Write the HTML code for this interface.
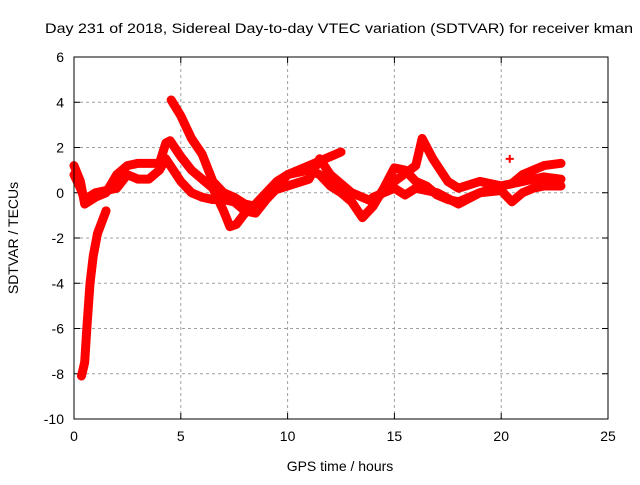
<!DOCTYPE html>
<html><head><meta charset="utf-8"><style>
body{margin:0;background:#fff}
svg text{font-family:"Liberation Sans",sans-serif;font-size:14px;fill:#000}
</style></head><body>
<svg id="chart" width="640" height="480" xmlns="http://www.w3.org/2000/svg">
<text x="45" y="33" textLength="588" lengthAdjust="spacingAndGlyphs">Day 231 of 2018, Sidereal Day-to-day VTEC variation (SDTVAR) for receiver kman</text>
<g id="grid"></g>
<g id="ticks"></g>
<g id="series"></g>
<rect x="74" y="57" width="534" height="362" fill="none" stroke="#000" stroke-width="1"/>
<text x="340" y="471" text-anchor="middle">GPS time / hours</text>
<text transform="translate(18,238) rotate(-90)" text-anchor="middle">SDTVAR / TECUs</text>
</svg>
<script>
const xTicks=[0,5,10,15,20,25];
const yTicks=[6,4,2,0,-2,-4,-6,-8,-10];
const trackA=[[0.35,-8.1],[0.5,-7.5],[0.6,-6],[0.75,-4],[0.9,-2.8],[1.1,-1.8],[1.5,-0.8]];
const trackB=[[4.55,4.1],[5,3.4],[5.5,2.4],[6,1.7],[6.5,0.5],[7,0],[7.5,-0.2],[8,-0.5],[8.5,-0.6]];
const trackC=[[0,1.2],[0.3,0.5],[0.5,-0.5],[1,-0.2],[1.5,0],[2,0.8],[2.5,1.2],[3,1.3],[3.5,1.3],[4,1.3],[4.3,2.2],[4.5,2.3],[5,1.6],[5.5,1],[6,0.6],[6.5,0.2],[7,-0.8],[7.3,-1.5],[7.6,-1.4],[8,-0.9],[8.5,-0.5],[9,0],[9.5,0.5],[10,0.8],[11,1.2],[12,1.6],[12.5,1.8]];
const trackD=[[0,0.8],[0.3,0.2],[0.5,-0.3],[1,0],[2,0.2],[2.5,0.8],[3,0.6],[3.5,0.6],[4,1],[4.3,1.5],[5,0.5],[5.5,0],[6,-0.2],[6.5,-0.3],[7,-0.3],[7.5,-0.4],[8,-0.8],[8.5,-0.9],[9,-0.3],[9.5,0.2],[10,0.8],[11,1.0],[11.5,0.8],[12,0.3],[12.5,0],[13,-0.4],[13.5,-1.1],[14,-0.6],[14.5,0.2],[15,1.1],[15.5,1],[16,0.5],[16.5,0.3],[17,-0.1],[17.5,-0.3],[18,-0.4],[19,0],[20,0.3],[21,0.5],[22,0.7],[22.8,0.6]];
const trackE=[[9,0],[10,0.3],[11,0.6],[11.5,1.5],[12,0.8],[13,0],[14,-0.4],[15,0.5],[16,1.2],[16.3,2.4],[16.8,1.5],[17.5,0.5],[18,0.2],[19,0.5],[20,0.3],[20.5,0.4],[21,0.8],[21.5,1],[22,1.2],[22.8,1.3]];
const trackF=[[14,-0.2],[15,0.2],[15.5,-0.1],[16,0.2],[17,0],[18,-0.5],[19,0],[20,0.1],[20.5,-0.4],[21,0],[21.5,0.2],[22,0.3],[22.8,0.3]];
const isolated=[[20.4,1.5]];
const tracks=[trackA,trackB,trackC,trackD,trackE,trackF];

const X0=74,X1=608,Y0=419,Y1=57;
function sx(h){return X0+(h-0)/(25-0)*(X1-X0);}
function sy(v){return Y0-(v+10)/16*(Y0-Y1);}
const NS="http://www.w3.org/2000/svg";
function mk(tag,attrs,parent){const e=document.createElementNS(NS,tag);for(const k in attrs)e.setAttribute(k,attrs[k]);parent.appendChild(e);return e;}
const grid=document.getElementById('grid'),ticks=document.getElementById('ticks'),ser=document.getElementById('series');
xTicks.forEach(t=>{
  const x=sx(t);
  if(t>0&&t<25){const g=mk('line',{x1:x,x2:x,y1:Y1,y2:Y0,stroke:'#a0a0a0','stroke-dasharray':'3,3'},grid);
  
  }
  mk('line',{x1:x,x2:x,y1:Y0,y2:Y0-6,stroke:'#000'},ticks);
  mk('line',{x1:x,x2:x,y1:Y1,y2:Y1+6,stroke:'#000'},ticks);
  const tx=mk('text',{x:x,y:Y0+22,'text-anchor':'middle'},ticks);tx.textContent=t;
  
  
});
yTicks.forEach(t=>{
  const y=sy(t);
  if(t>-10&&t<6){const g=mk('line',{x1:X0,x2:X1,y1:y,y2:y,stroke:'#a0a0a0','stroke-dasharray':'3,3'},grid);
  
  }
  mk('line',{x1:X0,x2:X0+6,y1:y,y2:y,stroke:'#000'},ticks);
  mk('line',{x1:X1,x2:X1-6,y1:y,y2:y,stroke:'#000'},ticks);
  const tx=mk('text',{x:X0-10,y:y+5,'text-anchor':'end'},ticks);tx.textContent=t;
  
  
});
tracks.forEach((tr,i)=>{
  const pl=mk('polyline',{points:tr.map(p=>sx(p[0])+','+sy(p[1])).join(' '),fill:'none',stroke:'#ff0000','stroke-width':9,'stroke-linejoin':'round','stroke-linecap':'round'},ser);
  
  
});
tracks.concat([isolated]).forEach(tr=>tr.forEach(p=>{
  const x=sx(p[0]),y=sy(p[1]);
  const m=mk('path',{d:`M${x-4},${y}h8M${x},${y-4}v8`,stroke:'#ff0000','stroke-width':2},ser);
  
  
}));
</script>
</body></html>
